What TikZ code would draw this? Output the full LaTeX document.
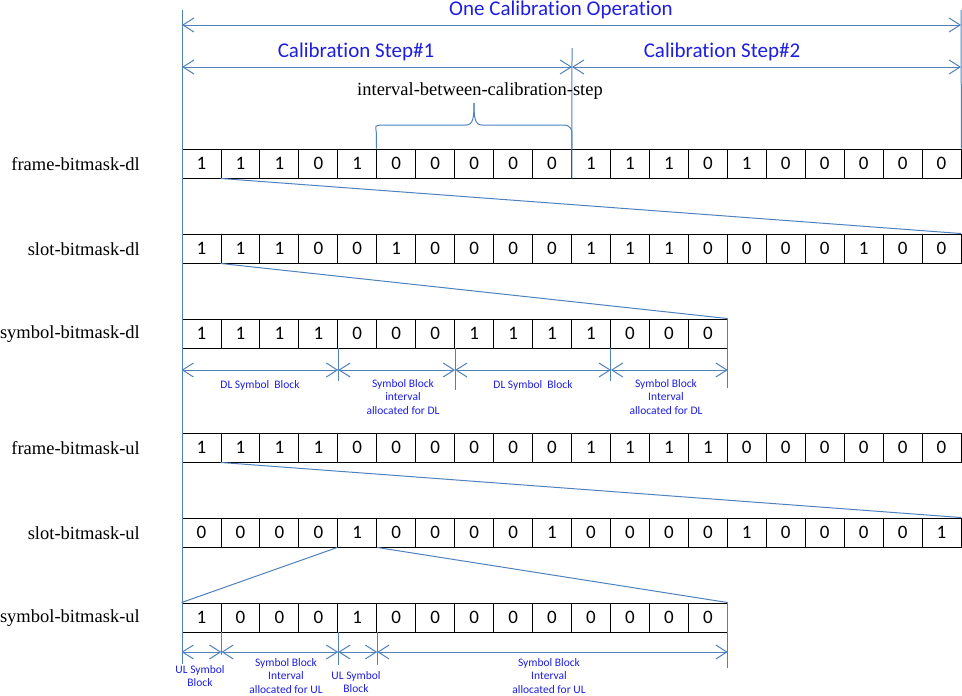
\documentclass[tikz,border=0pt]{standalone}
\usepackage{fontspec}
\setmainfont{Liberation Serif}
\newfontfamily\calfont[RawFeature={-liga}]{Carlito}
\usetikzlibrary{arrows.meta}
\definecolor{lineblue}{RGB}{79,129,189}
\definecolor{textblue}{RGB}{30,30,225}
\begin{document}
\begin{tikzpicture}[x=1pt,y=-1pt,
  cell/.style={draw=black, line width=0.9pt, minimum width=38.95pt, minimum height=29pt, inner sep=0pt, font=\calfont\fontsize{19}{19}\selectfont},
  rowlabel/.style={anchor=east, inner sep=0pt, font=\fontsize{18.5}{20}\selectfont},
  bl/.style={draw=lineblue, line width=1pt},
  dim/.style={bl, {Straight Barb[length=11pt,width=14pt]}-{Straight Barb[length=11pt,width=14pt]}},
  bigtitle/.style={text=textblue, inner sep=0pt, font=\calfont\fontsize{21}{23}\selectfont},
  small/.style={text=textblue, inner sep=0pt, align=center, font=\calfont\fontsize{11.5}{13.8}\selectfont}
]
\useasboundingbox (0,0) rectangle (962,696);

% rows of cells
\foreach \v [count=\i] in {1,1,1,0,1,0,0,0,0,0,1,1,1,0,1,0,0,0,0,0}
  \node[cell] (fd\i) at ({182+38.95*(\i-0.5)},163.5) {\v};
\foreach \v [count=\i] in {1,1,1,0,0,1,0,0,0,0,1,1,1,0,0,0,0,1,0,0}
  \node[cell] (sd\i) at ({182+38.95*(\i-0.5)},248.5) {\v};
\foreach \v [count=\i] in {1,1,1,1,0,0,0,1,1,1,1,0,0,0}
  \node[cell] (yd\i) at ({182+38.95*(\i-0.5)},333.5) {\v};
\foreach \v [count=\i] in {1,1,1,1,0,0,0,0,0,0,1,1,1,1,0,0,0,0,0,0}
  \node[cell] (fu\i) at ({182+38.95*(\i-0.5)},447.5) {\v};
\foreach \v [count=\i] in {0,0,0,0,1,0,0,0,0,1,0,0,0,0,1,0,0,0,0,1}
  \node[cell] (su\i) at ({182+38.95*(\i-0.5)},532.5) {\v};
\foreach \v [count=\i] in {1,0,0,0,1,0,0,0,0,0,0,0,0,0}
  \node[cell] (yu\i) at ({182+38.95*(\i-0.5)},617.5) {\v};

% row labels
\node[rowlabel] (lfd) at (140,164) {frame-bitmask-dl};
\node[rowlabel] (lsd) at (140,249) {slot-bitmask-dl};
\node[rowlabel] (lyd) at (140,334) {symbol-bitmask-dl};
\node[rowlabel] (lfu) at (140,448) {frame-bitmask-ul};
\node[rowlabel] (lsu) at (140,533) {slot-bitmask-ul};
\node[rowlabel] (lyu) at (140,618) {symbol-bitmask-ul};

% extent lines
\coordinate (ltop) at (182,10);
\coordinate (lbot) at (182,664);
\coordinate (rtop) at (961,10);
\coordinate (mtop) at (572,48);
\draw[bl] (ltop) -- (lbot);
\draw[bl] (rtop) -- (fd20.north east);
\draw[bl] (mtop) -- (fd10.south east);

% top dimension arrows
\coordinate (r1) at (0,25);
\coordinate (r2) at (0,67);
\draw[dim] (ltop |- r1) -- (rtop |- r1);
\draw[dim] (ltop |- r2) -- (mtop |- r2);
\draw[dim] (mtop |- r2) -- (rtop |- r2);
\node[bigtitle] (t1) at (561,10) {One Calibration Operation};
\node[bigtitle] (t2) at (356,52) {Calibration Step\#1};
\node[bigtitle] (t3) at (722,52) {Calibration Step\#2};

% brace
\node[inner sep=0pt, font=\fontsize{18.5}{20}\selectfont] (ibc) at (480,91) {interval-between-calibration-step};
\coordinate (btip) at (474,103);
\draw[bl] (fd6.north west) -- ++(0,-16) .. controls +(0,-6) and (372,125) .. (385,125) -- (466,125)
   .. controls (473,125) and (474,118) .. (btip);
\draw[bl] (btip) .. controls (474,118) and (475,125) .. (482,125) -- (563,125)
   .. controls (571,125) and (fd10.north east |- 0,130) .. (fd10.north east |- 0,134) -- (fd10.north east);

% zoom lines
\draw[bl] (fd2.south west) -- (sd20.north east);
\draw[bl] (sd2.south west) -- (yd14.north east);
\draw[bl] (fu2.south west) -- (su20.north east);
\draw[bl] (su5.south west) -- (yu1.north west);
\draw[bl] (su5.south east) -- (yu14.north east);

% DL symbol blocks
\draw[bl] (yd4.south east) -- ++(0,33);
\draw[bl] (yd7.south east) -- ++(0,42);
\draw[bl] (yd11.south east) -- ++(0,33);
\draw[bl] (yd14.north east) -- ++(0,69);
\coordinate (dr) at (0,370);
\draw[dim] (yd1.south west |- dr) -- (yd4.south east |- dr);
\draw[dim] (yd4.south east |- dr) -- (yd7.south east |- dr);
\draw[dim] (yd7.south east |- dr) -- (yd11.south east |- dr);
\draw[dim] (yd11.south east |- dr) -- (yd14.south east |- dr);
\node[small] (a1) at (260,385) {DL Symbol\ \ Block};
\node[small, anchor=north] (a2) at (403,379) {Symbol Block\\interval\\allocated for DL};
\node[small] (a3) at (533,385) {DL Symbol\ \ Block};
\node[small, anchor=north] (a4) at (666,379) {Symbol Block\\Interval\\allocated for DL};

% UL symbol blocks
\draw[bl] (yu1.south east) -- ++(0,23);
\draw[bl] (yu4.south east) -- ++(0,33);
\draw[bl] (yu5.south east) -- ++(0,33);
\draw[bl] (yu14.north east) -- ++(0,65);
\coordinate (ur) at (0,652);
\draw[dim] (yu1.south west |- ur) -- (yu1.south east |- ur);
\draw[dim] (yu1.south east |- ur) -- (yu4.south east |- ur);
\draw[dim] (yu4.south east |- ur) -- (yu5.south east |- ur);
\draw[dim] (yu5.south east |- ur) -- (yu14.south east |- ur);
\node[small, anchor=north] (b1) at (200,665) {UL Symbol\\Block};
\node[small, anchor=north] (b2) at (286,658) {Symbol Block\\Interval\\allocated for UL};
\node[small, anchor=north] (b3) at (356,671) {UL Symbol\\Block};
\node[small, anchor=north] (b4) at (549,658) {Symbol Block\\Interval\\allocated for UL};
\end{tikzpicture}
\end{document}
